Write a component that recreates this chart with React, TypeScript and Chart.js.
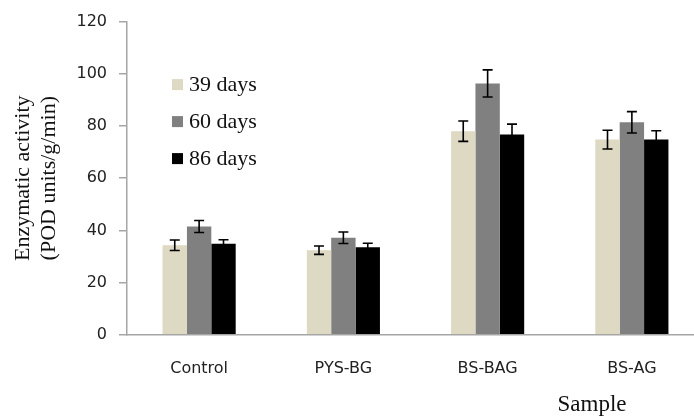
import React, { useEffect, useRef } from "react";
import { Chart, registerables } from "chart.js";

Chart.register(...registerables);

const categories = ["Control", "PYS-BG", "BS-BAG", "BS-AG"];
const seriesLabels = ["39 days", "60 days", "86 days"];
const days39 = [34.3, 32.4, 78.0, 74.8];
const days60 = [41.5, 37.2, 96.3, 81.4];
const days86 = [34.9, 33.5, 76.7, 74.8];
const err39 = [2.0, 1.6, 3.9, 3.6];
const err60 = [2.3, 2.2, 5.2, 4.1];
const err86 = [1.5, 1.6, 4.0, 3.4];
const yTicks = [0, 20, 40, 60, 80, 100, 120];
const yTitle = ["Enzymatic activity", "(POD units/g/min)"];
const xTitle = "Sample";

const colors = ["#DDD9C3", "#808080", "#000000"];

const errorBarPlugin = {
  id: "errorBars",
  afterDatasetsDraw(chart: any) {
    const { ctx } = chart;
    const yScale = chart.scales.y;
    ctx.save();
    ctx.strokeStyle = "#000";
    ctx.lineWidth = 1.6;
    chart.data.datasets.forEach((ds: any, i: number) => {
      const meta = chart.getDatasetMeta(i);
      meta.data.forEach((el: any, j: number) => {
        const v = ds.data[j];
        const e = ds.errors[j];
        const x = el.x;
        const yT = yScale.getPixelForValue(v + e);
        const yB = yScale.getPixelForValue(v - e);
        const cap = 5;
        ctx.beginPath();
        ctx.moveTo(x, yT);
        ctx.lineTo(x, yB);
        ctx.moveTo(x - cap, yT);
        ctx.lineTo(x + cap, yT);
        ctx.moveTo(x - cap, yB);
        ctx.lineTo(x + cap, yB);
        ctx.stroke();
      });
    });
    ctx.restore();
  },
};

const legendPlugin = {
  id: "customLegend",
  afterDraw(chart: any) {
    const { ctx, chartArea } = chart;
    ctx.save();
    ctx.font = "22px 'Liberation Serif'";
    ctx.textBaseline = "middle";
    ctx.textAlign = "left";
    chart.data.datasets.forEach((ds: any, i: number) => {
      const cy = chartArea.top + 63 + i * 37;
      const sx = chartArea.left + 45;
      ctx.fillStyle = ds.backgroundColor;
      ctx.fillRect(sx, cy - 5.5, 11, 11);
      ctx.fillStyle = "#111";
      ctx.fillText(ds.label, sx + 17, cy + 1);
    });
    // x axis title
    ctx.font = "23px 'Liberation Serif'";
    ctx.textAlign = "center";
    ctx.fillStyle = "#111";
    ctx.fillText(xTitle, chartArea.left + 465, 405);
    ctx.restore();
  },
};

export default function App() {
  const ref = useRef<HTMLCanvasElement>(null);
  useEffect(() => {
    if (!ref.current) return;
    const chart = new Chart(ref.current, {
      type: "bar",
      data: {
        labels: categories,
        datasets: [
          { label: seriesLabels[0], data: days39, errors: err39, backgroundColor: colors[0] } as any,
          { label: seriesLabels[1], data: days60, errors: err60, backgroundColor: colors[1] } as any,
          { label: seriesLabels[2], data: days86, errors: err86, backgroundColor: colors[2] } as any,
        ],
      },
      options: {
        animation: false,
        responsive: false,
        maintainAspectRatio: false,
        layout: { padding: { top: 20, right: 16, bottom: 14, left: 0 } },
        datasets: { bar: { barPercentage: 1, categoryPercentage: 0.507 } },
        plugins: { legend: { display: false }, tooltip: { enabled: false } },
        scales: {
          x: {
            grid: { display: false, drawTicks: false },
            border: { display: true, color: "#a6a6a6", width: 1.5 },
            ticks: { padding: 24, color: "#222", font: { family: "'DejaVu Sans'", size: 16 } },
          },
          y: {
            min: 0,
            max: 120,
            afterBuildTicks: (scale: any) => {
              scale.ticks = yTicks.map((v) => ({ value: v }));
            },
            afterFit: (scale: any) => {
              scale.width = 127;
            },
            grid: { drawOnChartArea: false, drawTicks: true, tickLength: 8, color: "#a6a6a6", lineWidth: 1.5 },
            border: { display: true, color: "#a6a6a6", width: 1.5 },
            ticks: { padding: 12, color: "#222", font: { family: "'DejaVu Sans'", size: 16 } },
            title: {
              display: true,
              text: yTitle,
              color: "#111",
              padding: { top: 11, bottom: 0 },
              font: { family: "'Liberation Serif'", size: 22, lineHeight: 1.15 },
            },
          },
        },
      },
      plugins: [errorBarPlugin, legendPlugin],
    });
    return () => chart.destroy();
  }, []);
  return (
    <div style={{ position: "fixed", left: 0, top: 0, width: 694, height: 416, overflow: "hidden", background: "#fff" }}>
      <canvas ref={ref} width={720} height={416} style={{ width: 720, height: 416, display: "block" }} />
    </div>
  );
}
